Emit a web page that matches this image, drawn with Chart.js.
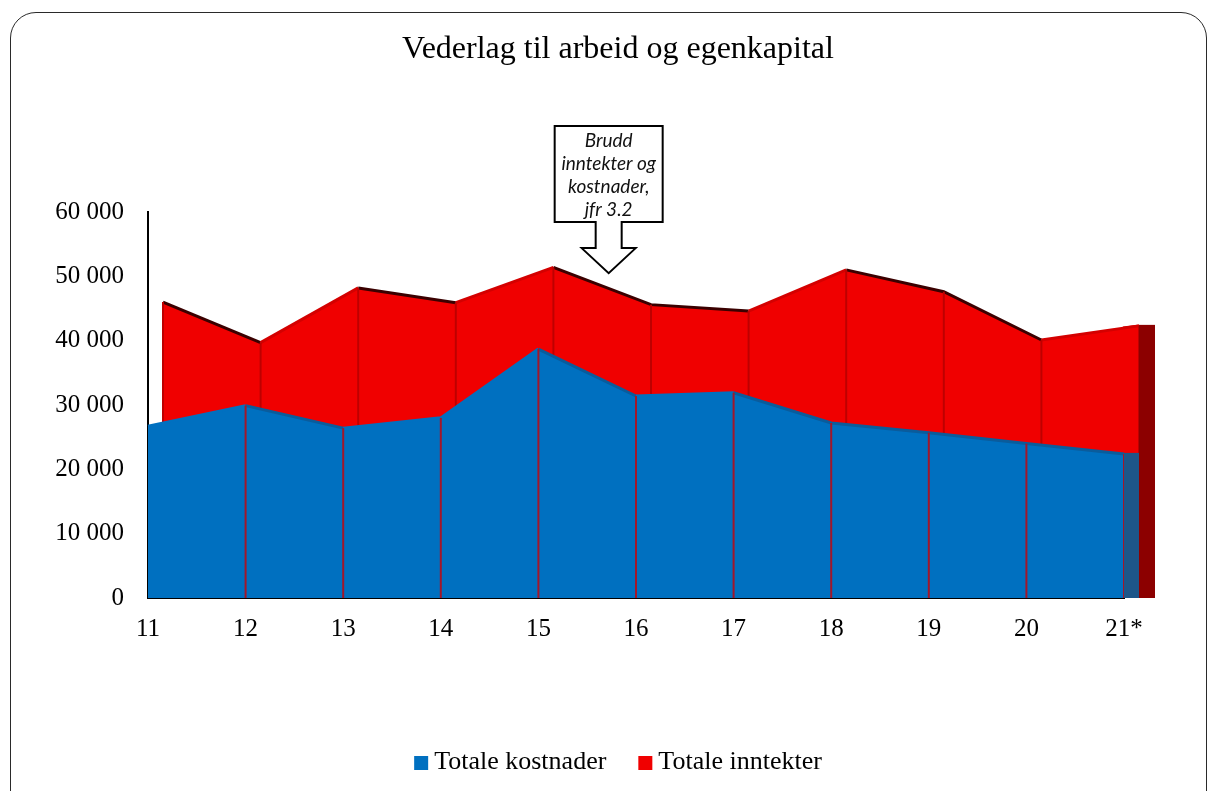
<!DOCTYPE html>
<html>
<head>
<meta charset="utf-8">
<script src="https://cdn.jsdelivr.net/npm/chart.js@4.4.1/dist/chart.umd.min.js"></script>
<style>
  html, body { margin: 0; padding: 0; background: #fff; overflow: hidden; }
  #frame {
    position: absolute; left: 10px; top: 12px; width: 1197px; height: 820px;
    border: 1.5px solid #2a2a2a; border-radius: 26px; box-sizing: border-box;
  }
  #wrap { position: absolute; left: 0; top: 0; width: 1209px; height: 791px; }
</style>
</head>
<body>
<div id="frame"></div>
<div id="wrap"><canvas id="myChart" width="1209" height="791"></canvas></div>
<script>
var years = ["11", "12", "13", "14", "15", "16", "17", "18", "19", "20", "21*"],
  kostnader = [26700, 29900, 26400, 28000, 38700, 31400, 31900, 27200, 25700, 24000, 22400],
  inntekter = [46000, 39700, 48200, 45900, 51400, 45600, 44600, 51000, 47600, 40100, 42300],
  yTicks = [0, 10000, 20000, 30000, 40000, 50000, 60000],
  noteLines = ["Brudd", "inntekter og", "kostnader,", "jfr 3.2"],
  title = "Vederlag til arbeid og egenkapital";

var serif = "'Liberation Serif', 'Times New Roman', serif",
  blue = "#0070c0",
  red = "#f00000",
  shift = 15, // back row sits a little to the right
  midX = 618;

function spaced(v) {
  return String(v).replace(/\B(?=(\d{3})+(?!\d))/g, " ");
}

// back row offset, vertical seams and end faces
var depth = {
  id: "depth",
  afterDatasetUpdate: function(chart, args) {
    if (args.index === 1) {
      args.meta.data.forEach(function(p) { p.x += shift; });
    }
  },
  afterDatasetDraw: function(chart, args) {
    var ctx = chart.ctx,
      pts = args.meta.data,
      base = chart.scales.y.getPixelForValue(0),
      right = chart.chartArea.right,
      back = args.index === 1,
      last = pts[pts.length - 1],
      prev = pts[pts.length - 2];
    ctx.save();
    if (back) {
      // the filler clips at the chart area, finish the last strip by hand
      var yr = prev.y + (last.y - prev.y) * (right - prev.x) / (last.x - prev.x);
      ctx.fillStyle = args.meta.dataset.options.backgroundColor;
      ctx.beginPath();
      ctx.moveTo(right - 1, yr);
      ctx.lineTo(last.x, last.y);
      ctx.lineTo(last.x, base);
      ctx.lineTo(right - 1, base);
      ctx.closePath();
      ctx.fill();
      ctx.strokeStyle = "#d40000";
      ctx.lineWidth = 3;
      ctx.beginPath();
      ctx.moveTo(right - 1, yr);
      ctx.lineTo(last.x, last.y);
      ctx.stroke();
    }
    ctx.strokeStyle = back ? "#be0000" : "#a3162a";
    ctx.lineWidth = 2;
    pts.forEach(function(p, i) {
      if (i === 0 && !back) return;
      ctx.beginPath();
      ctx.moveTo(p.x, p.y);
      ctx.lineTo(p.x, base);
      ctx.stroke();
    });
    ctx.fillStyle = back ? "#8c0000" : "#1d5689";
    ctx.fillRect(last.x, last.y - 1, shift + (back ? 1 : 0), base - last.y + 1);
    ctx.restore();
  }
};

// title, legend and the callout with its arrow
var decor = {
  id: "decor",
  afterDraw: function(chart) {
    var ctx = chart.ctx;
    ctx.save();
    ctx.fillStyle = "#000";
    ctx.textBaseline = "middle";
    ctx.textAlign = "center";
    ctx.font = "32px " + serif;
    ctx.fillText(title, midX, 50);

    // legend
    ctx.font = "26px " + serif;
    ctx.textAlign = "left";
    var sets = chart.data.datasets, box = 14, gap = 6, sep = 32, total = 0;
    sets.forEach(function(d, i) {
      total += box + gap + ctx.measureText(d.label).width + (i ? sep : 0);
    });
    var lx = midX - total / 2, ly = 762;
    sets.forEach(function(d, i) {
      if (i) lx += sep;
      ctx.fillStyle = d.backgroundColor;
      ctx.fillRect(lx, ly - box / 2 + 1, box, box);
      lx += box + gap;
      ctx.fillStyle = "#000";
      ctx.fillText(d.label, lx, ly);
      lx += ctx.measureText(d.label).width;
    });

    // callout
    var tx = chart.scales.x.getPixelForValue(4.72),
      ty = chart.scales.y.getPixelForValue(50500),
      boxTop = ty - 147, boxBot = ty - 51, headY = ty - 25;
    ctx.beginPath();
    ctx.moveTo(tx - 54, boxTop);
    ctx.lineTo(tx + 54, boxTop);
    ctx.lineTo(tx + 54, boxBot);
    ctx.lineTo(tx + 13, boxBot);
    ctx.lineTo(tx + 13, headY);
    ctx.lineTo(tx + 27, headY);
    ctx.lineTo(tx, ty);
    ctx.lineTo(tx - 27, headY);
    ctx.lineTo(tx - 13, headY);
    ctx.lineTo(tx - 13, boxBot);
    ctx.lineTo(tx - 54, boxBot);
    ctx.closePath();
    ctx.fillStyle = "#fff";
    ctx.fill();
    ctx.strokeStyle = "#000";
    ctx.lineWidth = 2;
    ctx.stroke();
    ctx.fillStyle = "#111";
    ctx.font = "italic 19px Lato, 'Liberation Sans', sans-serif";
    ctx.textAlign = "center";
    noteLines.forEach(function(t, i) {
      ctx.fillText(t, tx, boxTop + 15 + i * 23);
    });
    ctx.restore();
  }
};

var ctx = document.getElementById("myChart"),
  config = {
    type: "line",
    data: {
      labels: years,
      datasets: [
        {
          label: "Totale kostnader",
          data: kostnader,
          backgroundColor: blue,
          borderColor: blue,
          borderWidth: 3,
          fill: "origin",
          pointRadius: 0,
          clip: false,
          segment: {
            borderColor: function(c) {
              return c.p1.parsed.y < c.p0.parsed.y ? "#0a5c9c" : blue;
            }
          }
        },
        {
          label: "Totale inntekter",
          data: inntekter,
          backgroundColor: red,
          borderColor: red,
          borderWidth: 3,
          fill: "origin",
          pointRadius: 0,
          clip: false,
          segment: {
            borderColor: function(c) {
              return c.p1.parsed.y < c.p0.parsed.y ? "#3a0000" : "#d40000";
            }
          }
        }
      ]
    },
    options: {
      responsive: false,
      animation: false,
      layout: { padding: { left: 0, right: 85, top: 212, bottom: 0 } },
      scales: {
        x: {
          offset: false,
          grid: { drawOnChartArea: false, drawTicks: false },
          border: { color: "#000", width: 2 },
          ticks: { color: "#000", padding: 16, font: { family: serif, size: 25 }, maxRotation: 0 },
          afterFit: function(s) { s.height = 193; }
        },
        y: {
          min: 0,
          max: 60000,
          afterBuildTicks: function(s) {
            s.ticks = yTicks.map(function(v) { return { value: v }; });
          },
          grid: { drawOnChartArea: false, drawTicks: false },
          border: { color: "#000", width: 2 },
          ticks: {
            color: "#000",
            padding: 24,
            font: { family: serif, size: 25 },
            callback: function(v) { return spaced(v); }
          },
          afterFit: function(s) { s.width = 148; }
        }
      },
      plugins: {
        title: { display: false },
        legend: { display: false },
        tooltip: { enabled: false }
      }
    },
    plugins: [depth, decor]
  };

myChart = new Chart(ctx, config);
</script>
</body>
</html>
